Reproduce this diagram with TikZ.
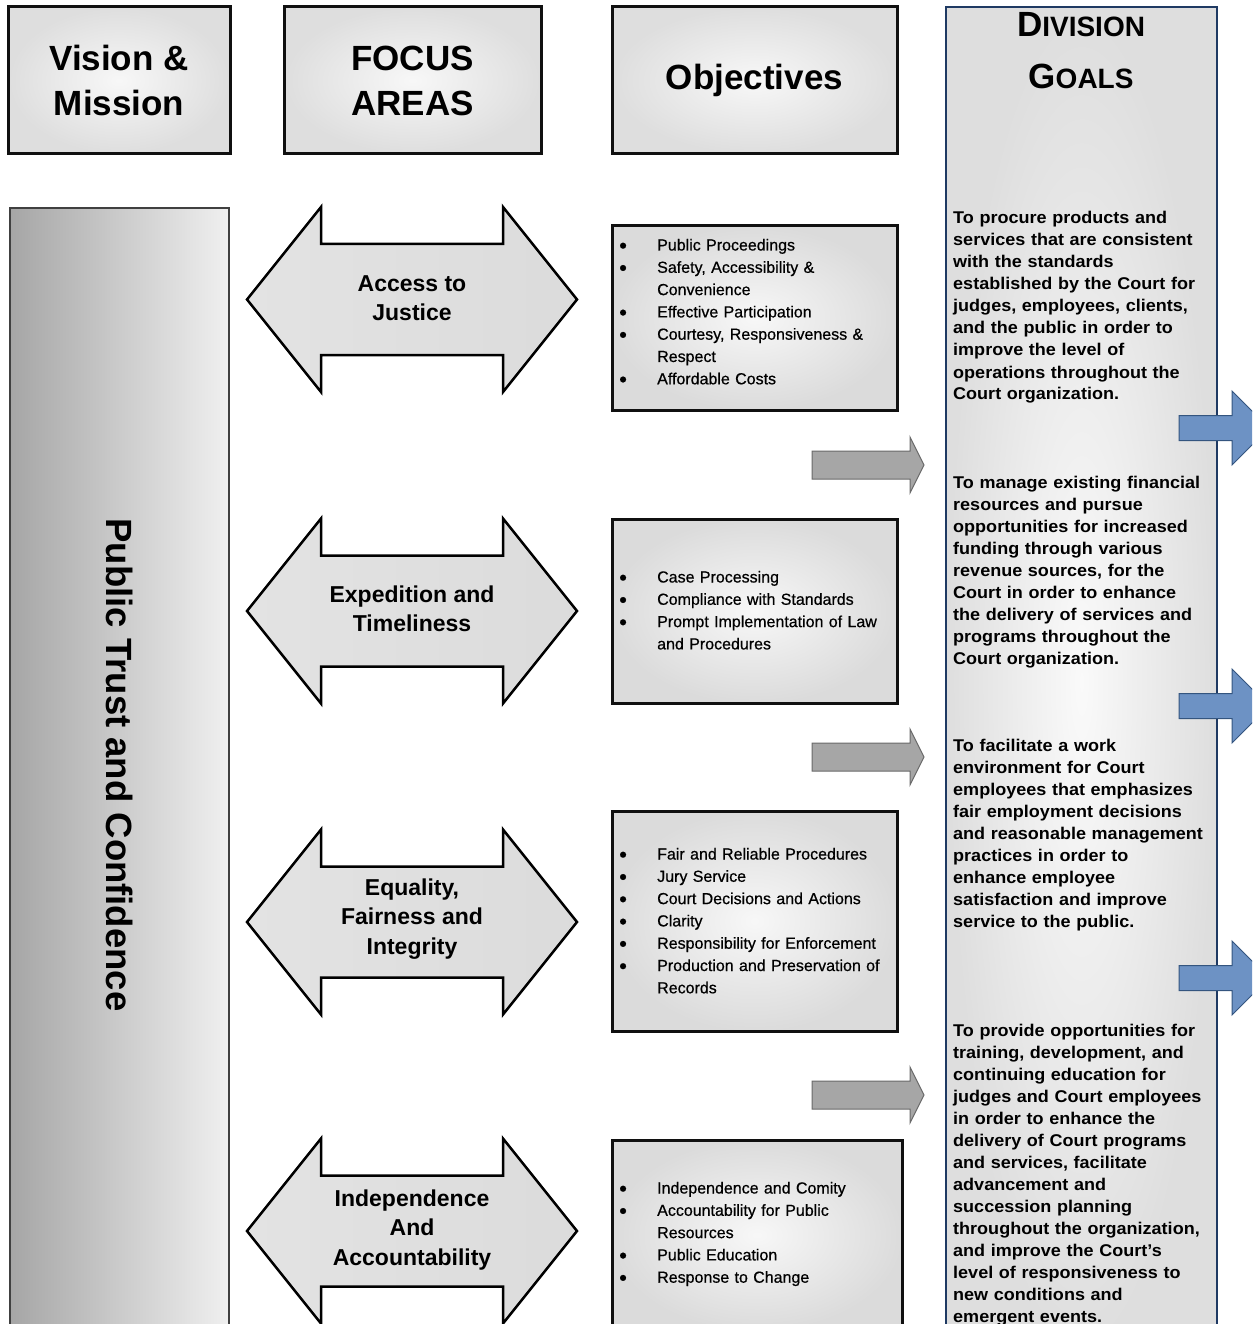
\documentclass[tikz,border=0pt]{standalone}
\usepackage{fontspec}
\setmainfont{Liberation Sans}
\newfontfamily\goalfont[FakeStretch=1.06]{Liberation Sans Bold}
\newfontfamily\objfont[FakeBold=0.6]{Liberation Sans}
\definecolor{boxedge}{HTML}{101010}
\definecolor{navy}{HTML}{1F3A63}
\definecolor{bluefill}{HTML}{6D92C4}
\definecolor{blueedge}{HTML}{34557F}
\definecolor{greyfill}{HTML}{A6A6A6}
\definecolor{greyedge}{HTML}{6A6A6A}
\newcommand{\bl}[1]{\makebox[38pt][l]{\raisebox{-2.5pt}{\fontsize{22}{0}\selectfont\textbullet}}#1}
\newcommand{\cn}[1]{\hspace*{38pt}#1}
\begin{document}
\begin{tikzpicture}[x=1pt,y=-1pt,
  hdrbox/.style={draw=boxedge, line width=3pt, inner color=black!3, outer color=black!13,
    font=\fontsize{35}{45}\selectfont\bfseries, align=center, inner sep=0pt},
  objbox/.style={draw=boxedge, line width=3pt, inner color=black!3, outer color=black!14, inner sep=0pt},
  objtext/.style={anchor=base west, align=left, text width=275pt, inner sep=0pt,
    font=\fontsize{16}{22.3}\objfont},
  goaltext/.style={anchor=base west, align=left, text width=262pt, inner sep=0pt,
    font=\fontsize{17}{22}\goalfont},
  focuslabel/.style={align=center, inner sep=0pt, font=\fontsize{23}{29.5}\selectfont\bfseries},
  dblfill/.style={draw=black, line width=2.5pt, line join=miter,
    left color=black!11, middle color=black!2, right color=black!14},
  greyarrow/.style={draw=greyedge, line width=1pt, fill=greyfill},
  bluearrow/.style={draw=blueedge, line width=1pt, fill=bluefill},
  dblarrow/.pic={
    \path[dblfill] (-165,0) -- (-91,-92.5) -- (-91,-55.5) -- (91,-55.5) -- (91,-92.5)
      -- (165,0) -- (91,92.5) -- (91,55.5) -- (-91,55.5) -- (-91,92.5) -- cycle;
  },
  rightarrow/.pic={
    \path[greyarrow] (-112,-14) -- (-14,-14) -- (-14,-28) -- (0,0) -- (-14,28)
      -- (-14,14) -- (-112,14) -- cycle;
  },
  goalarrow/.pic={
    \path[bluearrow] (0,-12.5) -- (53,-12.5) -- (53,-37) -- (90,0) -- (53,37)
      -- (53,12.5) -- (0,12.5) -- cycle;
  }
]
\useasboundingbox (0,0) rectangle (1252,1324);
\clip (0,0) rectangle (1252,1324);

% column headings
\node[hdrbox, minimum width=222pt, minimum height=147pt] (vision) at (119,80.5) {Vision \&\\Mission};
\node[hdrbox, minimum width=257pt, minimum height=147pt] (focus) at (412.5,80.5) {FOCUS\\AREAS};
\node[hdrbox, minimum width=285pt, minimum height=147pt] (objectives) at (754.5,80.5) {Objectives};

% division goals column
\node[draw=navy, line width=2.5pt, inner color=black!2, outer color=black!13,
  minimum width=271pt, minimum height=1350pt, inner sep=0pt] (goals) at (1081.5,682) {};
\node[anchor=base, inner sep=0pt, font=\bfseries] (goalhead1) at (1081,37)
  {\fontsize{35}{35}\selectfont D\fontsize{28}{28}\selectfont IVISION};
\node[anchor=base, inner sep=0pt, font=\bfseries] (goalhead2) at (1081,89)
  {\fontsize{35}{35}\selectfont G\fontsize{28}{28}\selectfont OALS};

% vision bar
\node[draw=black!75, line width=2pt, left color=black!35, right color=black!6,
  minimum width=219pt, minimum height=1140pt, inner sep=0pt] (trust) at (119.5,778) {};
\node[rotate=-90, inner sep=0pt, font=\fontsize{36.5}{40}\selectfont\bfseries] (trusttext)
  at (120,765) {Public Trust and Confidence};

% focus areas
\pic at (412,299.5) {dblarrow};
\pic at (412,611) {dblarrow};
\pic at (412,922) {dblarrow};
\pic at (412,1231) {dblarrow};
\node[focuslabel] (fa1) at (412,298) {Access to\\Justice};
\node[focuslabel] (fa2) at (412,609) {Expedition and\\Timeliness};
\node[focuslabel] (fa3) at (412,919) {Equality,\\Fairness and\\Integrity};
\node[focuslabel] (fa4) at (412,1230) {Independence\\And\\Accountability};

% objectives
\node[objbox, minimum width=285pt, minimum height=184pt] (obj1) at (754.5,318) {};
\node[objbox, minimum width=285pt, minimum height=184pt] (obj2) at (754.5,611) {};
\node[objbox, minimum width=285pt, minimum height=220pt] (obj3) at (754.5,921) {};
\node[objbox, minimum width=290pt, minimum height=190pt] (obj4) at (757,1235) {};

\node[objtext] (obj1text) at (619,250.5) {\bl{Public Proceedings}\\\bl{Safety, Accessibility \&}\\\cn{Convenience}\\\bl{Effective Participation}\\\bl{Courtesy, Responsiveness \&}\\\cn{Respect}\\\bl{Affordable Costs}};
\node[objtext] (obj2text) at (619,582.5) {\bl{Case Processing}\\\bl{Compliance with Standards}\\\bl{Prompt Implementation of Law}\\\cn{and Procedures}};
\node[objtext] (obj3text) at (619,859.5) {\bl{Fair and Reliable Procedures}\\\bl{Jury Service}\\\bl{Court Decisions and Actions}\\\bl{Clarity}\\\bl{Responsibility for Enforcement}\\\bl{Production and Preservation of}\\\cn{Records}};
\node[objtext] (obj4text) at (619,1193.5) {\bl{Independence and Comity}\\\bl{Accountability for Public}\\\cn{Resources}\\\bl{Public Education}\\\bl{Response to Change}};

% arrows from objectives into the goals
\pic at (924,465) {rightarrow};
\pic at (924,757) {rightarrow};
\pic at (924,1095) {rightarrow};

% goal statements
\node[goaltext] (goal1) at (953,224) {To procure products and\\services that are consistent\\with the standards\\established by the Court for\\judges, employees, clients,\\and the public in order to\\improve the level of\\operations throughout the\\Court organization.};
\node[goaltext] (goal2) at (953,488) {To manage existing financial\\resources and pursue\\opportunities for increased\\funding through various\\revenue sources, for the\\Court in order to enhance\\the delivery of services and\\programs throughout the\\Court organization.};
\node[goaltext] (goal3) at (953,751) {To facilitate a work\\environment for Court\\employees that emphasizes\\fair employment decisions\\and reasonable management\\practices in order to\\enhance employee\\satisfaction and improve\\service to the public.};
\node[goaltext] (goal4) at (953,1036) {To provide opportunities for\\training, development, and\\continuing education for\\judges and Court employees\\in order to enhance the\\delivery of Court programs\\and services, facilitate\\advancement and\\succession planning\\throughout the organization,\\and improve the Court’s\\level of responsiveness to\\new conditions and\\emergent events.};

% arrows leaving the goals column
\pic at (1179,428) {goalarrow};
\pic at (1179,706) {goalarrow};
\pic at (1179,978) {goalarrow};
\end{tikzpicture}
\end{document}
